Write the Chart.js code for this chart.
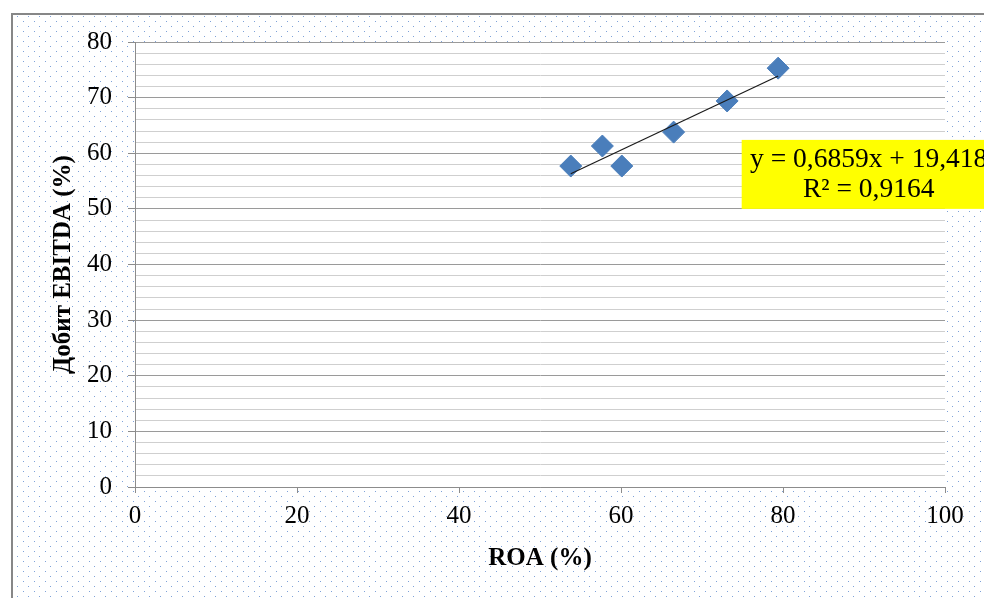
<!DOCTYPE html>
<html>
<head>
<meta charset="utf-8">
<script src="https://cdn.jsdelivr.net/npm/chart.js@4"></script>
<style>
  html, body { margin: 0; padding: 0; background: #fff; }
  #wrap { width: 984px; height: 598px; position: relative; }
</style>
</head>
<body>
<div id="wrap"><canvas id="chart" width="984" height="598"></canvas></div>
<script>
// Scatter of ROA vs EBITDA margin, with linear trend
const roaValues = [53.8, 57.7, 60.1, 66.5, 73.1, 79.4];
const ebitdaValues = [57.7, 61.3, 57.7, 63.8, 69.4, 75.3];
const trendSlope = 0.6859;
const trendIntercept = 19.418;
const trendLabel = ['y = 0,6859x + 19,418', 'R\u00B2 = 0,9164'];
const xTitle = 'ROA (%)';
const yTitle = 'Добит EBITDA (%)';

const serif = '"Liberation Serif", "Times New Roman", serif';

const points = roaValues.map((x, i) => ({ x: x, y: ebitdaValues[i] }));
const xMin = Math.min(...roaValues);
const xMax = Math.max(...roaValues);
const trendPoints = [
  { x: xMin, y: trendSlope * xMin + trendIntercept },
  { x: xMax, y: trendSlope * xMax + trendIntercept }
];

// dotted background like the office chart area fill
function makeDots(ctx) {
  const c = document.createElement('canvas');
  c.width = 11;
  c.height = 10;
  const g = c.getContext('2d');
  g.fillStyle = '#fff';
  g.fillRect(0, 0, 11, 10);
  g.fillStyle = '#7fa2d8';
  g.fillRect(1, 1, 1, 1);
  g.fillRect(6, 6, 1, 1);
  return ctx.createPattern(c, 'repeat');
}

const backdrop = {
  id: 'backdrop',
  beforeDraw(chart) {
    const ctx = chart.ctx;
    const a = chart.chartArea;
    ctx.save();
    ctx.fillStyle = '#fff';
    ctx.fillRect(0, 0, chart.width, chart.height);
    ctx.fillStyle = makeDots(ctx);
    ctx.fillRect(13, 15, chart.width - 13, chart.height - 15);
    ctx.strokeStyle = '#878787';
    ctx.lineWidth = 2;
    ctx.beginPath();
    ctx.moveTo(12, chart.height + 2);
    ctx.lineTo(12, 14);
    ctx.lineTo(chart.width + 2, 14);
    ctx.stroke();
    ctx.fillStyle = '#fff';
    ctx.fillRect(a.left, a.top, a.right - a.left, a.bottom - a.top);
    ctx.restore();
  }
};

const equationBox = {
  id: 'equationBox',
  afterDatasetsDraw(chart) {
    const ctx = chart.ctx;
    const xs = chart.scales.x;
    const ys = chart.scales.y;
    const left = xs.getPixelForValue(74.9);
    const top = ys.getPixelForValue(62.4);
    const bottom = ys.getPixelForValue(50);
    const cx = left + 127;
    ctx.save();
    ctx.fillStyle = '#ffff00';
    ctx.fillRect(left, top, 260, bottom - top);
    ctx.fillStyle = '#000';
    ctx.font = '27.5px ' + serif;
    ctx.textAlign = 'center';
    ctx.textBaseline = 'middle';
    ctx.fillText(trendLabel[0], cx, top + 20);
    ctx.fillText(trendLabel[1], cx, top + 50);
    ctx.restore();
  }
};

new Chart(document.getElementById('chart'), {
  type: 'scatter',
  data: {
    datasets: [
      {
        label: 'EBITDA',
        data: points,
        pointStyle: 'rectRot',
        pointRadius: 11,
        pointHoverRadius: 11,
        backgroundColor: '#4a7ebb',
        borderColor: '#4a7ebb',
        borderWidth: 1,
        order: 2
      },
      {
        label: 'Trend',
        type: 'line',
        data: trendPoints,
        borderColor: '#1a1a1a',
        borderWidth: 1.2,
        pointRadius: 0,
        fill: false,
        order: 1
      }
    ]
  },
  options: {
    responsive: false,
    animation: false,
    events: [],
    layout: { padding: { left: 0, top: 42, right: 39, bottom: 0 } },
    plugins: {
      legend: { display: false },
      tooltip: { enabled: false }
    },
    scales: {
      x: {
        type: 'linear',
        min: 0,
        max: 100,
        ticks: { stepSize: 20, color: '#000', padding: 8, font: { family: serif, size: 25 } },
        grid: { drawOnChartArea: false, drawTicks: true, tickLength: 6, tickColor: '#8c8c8c' },
        border: { color: '#8c8c8c', width: 1 },
        title: {
          display: true,
          text: xTitle,
          color: '#000',
          font: { family: serif, size: 25, weight: 'bold' },
          padding: { top: 0, bottom: 24 }
        },
        afterFit(scale) { scale.height = 111; }
      },
      y: {
        type: 'linear',
        min: 0,
        max: 80,
        ticks: {
          stepSize: 2,
          autoSkip: false,
          color: '#000',
          padding: 16,
          font: { family: serif, size: 25 },
          callback: (v) => (v % 10 === 0 ? v : '')
        },
        grid: {
          lineWidth: 1,
          tickLength: 7,
          color: (c) => (c.tick && c.tick.value % 10 === 0 ? '#9a9a9a' : '#cfcfcf'),
          tickColor: (c) => (c.tick && c.tick.value % 10 === 0 ? '#8c8c8c' : 'rgba(0,0,0,0)')
        },
        border: { color: '#8c8c8c', width: 1 },
        title: {
          display: true,
          text: yTitle,
          color: '#000',
          font: { family: serif, size: 25, weight: 'bold' },
          padding: { top: 49, bottom: 0 }
        },
        afterFit(scale) { scale.width = 135; }
      }
    }
  },
  plugins: [backdrop, equationBox]
});
</script>
</body>
</html>
